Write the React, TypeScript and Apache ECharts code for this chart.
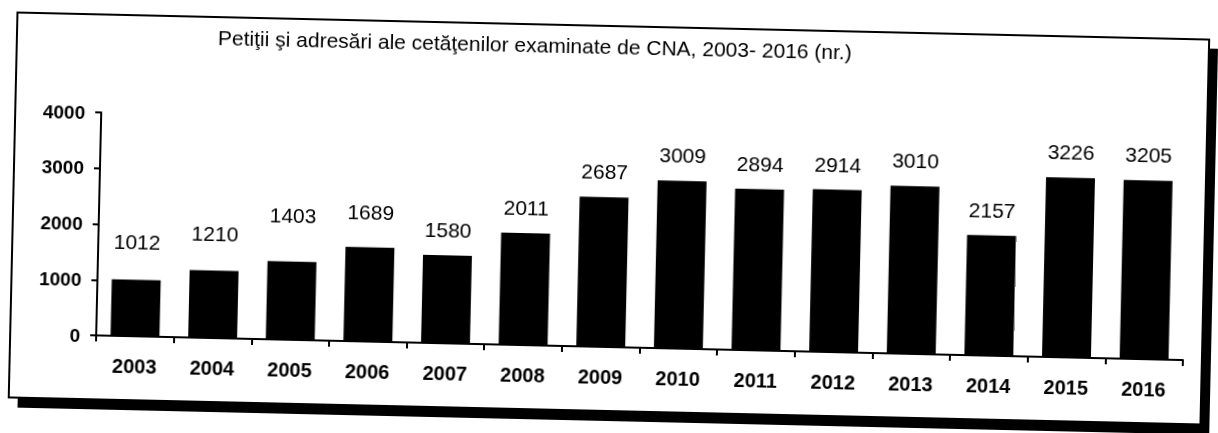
import React, { useEffect, useRef } from "react";
import * as echarts from "echarts";

const years = ["2003", "2004", "2005", "2006", "2007", "2008", "2009", "2010", "2011", "2012", "2013", "2014", "2015", "2016"];
const petitions = [1012, 1210, 1403, 1689, 1580, 2011, 2687, 3009, 2894, 2914, 3010, 2157, 3226, 3205];
const labelExtraLift = [13, 12, 21, 10, 0, 0, 0, 0, 0, 0, 0, 0, 0, 0];
const yTicks = { min: 0, max: 4000, interval: 1000 };
const titleText = "Petiţii şi adresări ale cetăţenilor examinate de CNA, 2003- 2016 (nr.)";

const FONT = '"Liberation Sans", Arial, Helvetica, sans-serif';

export default function App() {
  const ref = useRef<HTMLDivElement>(null);

  useEffect(() => {
    if (!ref.current) return;
    const chart = echarts.init(ref.current, undefined, { renderer: "svg" });
    chart.setOption({
      animation: false,
      backgroundColor: "transparent",
      textStyle: { fontFamily: FONT, color: "#000" },
      title: {
        text: titleText,
        left: 526,
        textAlign: "center",
        top: 31,
        textStyle: { fontFamily: FONT, fontSize: 21, fontWeight: "normal", color: "#000" },
      },
      graphic: [
        {
          type: "rect",
          z: -10,
          shape: { x: 22, y: 35, width: 1192, height: 386 },
          style: { fill: "#000" },
          silent: true,
        },
        {
          type: "rect",
          z: -9,
          shape: { x: 13, y: 26, width: 1192, height: 385 },
          style: { fill: "#fff", stroke: "#000", lineWidth: 2 },
          silent: true,
        },
      ],
      grid: { left: 99, right: 32, top: 124, bottom: 86 },
      xAxis: {
        type: "category",
        data: years,
        axisLine: { show: true, lineStyle: { color: "#000", width: 2 } },
        axisTick: { show: true, length: 6, lineStyle: { color: "#000", width: 2 } },
        axisLabel: {
          margin: 20,
          color: "#000",
          fontFamily: FONT,
          fontSize: 20,
          fontWeight: "bold",
        },
        splitLine: { show: false },
      },
      yAxis: {
        type: "value",
        min: yTicks.min,
        max: yTicks.max,
        interval: yTicks.interval,
        axisLine: { show: true, lineStyle: { color: "#000", width: 2 } },
        axisTick: { show: true, length: 6, lineStyle: { color: "#000", width: 2 } },
        axisLabel: {
          margin: 16,
          color: "#000",
          fontFamily: FONT,
          fontSize: 19,
          fontWeight: "bold",
          formatter: (v: number) => String(v),
        },
        splitLine: { show: false },
      },
      series: [
        {
          type: "bar",
          barWidth: "63%",
          itemStyle: { color: "#000" },
          label: {
            show: true,
            position: "top",
            distance: 15,
            color: "#000",
            fontFamily: FONT,
            fontSize: 21,
            fontWeight: "normal",
          },
          data: petitions.map((v, i) => ({
            value: v,
            label: { offset: [0, -labelExtraLift[i]] },
          })),
        },
      ],
    });
    return () => chart.dispose();
  }, []);

  return (
    <div
      ref={ref}
      style={{
        position: "fixed",
        left: 0,
        top: 0,
        width: 1218,
        height: 433,
        transform: "rotate(1.3deg)",
        transformOrigin: "50% 50%",
      }}
    />
  );
}
